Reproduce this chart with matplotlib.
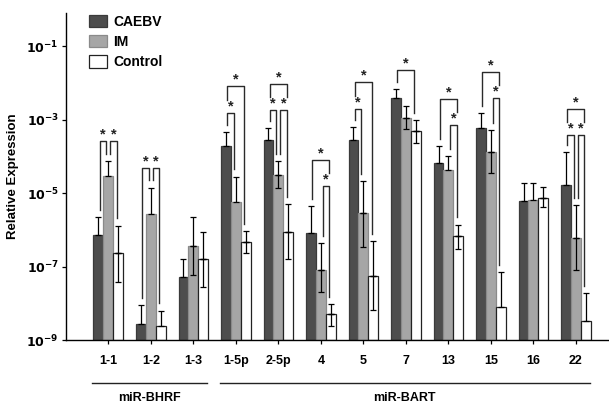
import numpy as np
import matplotlib
matplotlib.use("Agg")
import matplotlib.pyplot as plt

plt.rcParams['font.family'] = ['Liberation Sans', 'DejaVu Sans']

categories = ["1-1", "1-2", "1-3", "1-5p", "2-5p", "4", "5", "7", "13", "15", "16", "22"]
series_names = ["CAEBV", "IM", "Control"]

caebv = [7.2e-7, 2.8e-9, 5.1e-8, 1.9e-4, 2.8e-4, 8.1e-7, 2.8e-4, 3.8e-3, 6.6e-5, 5.9e-4, 6.0e-6, 1.7e-5]
im = [2.9e-5, 2.7e-6, 3.6e-7, 5.8e-6, 3.1e-5, 7.9e-8, 2.9e-6, 1.1e-3, 4.3e-5, 1.3e-4, 6.5e-6, 6.0e-7]
control = [2.3e-7, 2.4e-9, 1.6e-7, 4.7e-7, 8.7e-7, 5.1e-9, 5.5e-8, 4.9e-4, 6.8e-7, 7.9e-9, 7.2e-6, 3.3e-9]

caebv_err_hi = [2.2e-6, 8.9e-9, 1.6e-7, 4.6e-4, 5.9e-4, 4.5e-6, 6.3e-4, 6.8e-3, 1.9e-4, 1.5e-3, 1.9e-5, 1.3e-4]
im_err_hi = [7.4e-5, 1.4e-5, 2.2e-6, 2.8e-5, 7.4e-5, 4.4e-7, 2.1e-5, 2.3e-3, 1.0e-4, 5.1e-4, 1.9e-5, 4.7e-6]
control_err_hi = [1.3e-6, 6.3e-9, 8.7e-7, 9.3e-7, 5.0e-6, 9.5e-9, 5.0e-7, 9.8e-4, 1.4e-6, 7.1e-8, 1.5e-5, 1.9e-8]

caebv_err_lo = [np.nan] * 12
im_err_lo = [np.nan, np.nan, 5.9e-8, np.nan, 1.4e-5, 2.0e-8, 3.4e-7, 5.5e-4, np.nan, 3.5e-5, np.nan, 7.9e-8]
control_err_lo = [3.8e-8, np.nan, 2.8e-8, 2.3e-7, 1.6e-7, 2.5e-9, 6.6e-9, 2.3e-4, 3.0e-7, np.nan, 4.2e-6, np.nan]

# significance brackets: group index, left series, right series, bracket height
bracket_group = [0, 0, 1, 1, 3, 3, 4, 4, 4, 5, 5, 6, 6, 7, 8, 8, 9, 9, 11, 11, 11]
bracket_left = [0, 1, 0, 1, 0, 0, 0, 1, 0, 1, 0, 0, 0, 0, 1, 0, 1, 0, 0, 1, 0]
bracket_right = [1, 2, 1, 2, 1, 2, 1, 2, 2, 2, 2, 1, 2, 2, 2, 2, 2, 2, 1, 2, 2]
bracket_level = [2.6e-4, 2.6e-4, 4.8e-5, 4.8e-5, 1.5e-3, 8.1e-3, 1.8e-3, 1.8e-3, 9.1e-3,
                 1.55e-5, 7.9e-5, 1.95e-3, 1.05e-2, 2.2e-2, 7.1e-4, 3.6e-3, 3.8e-3, 1.95e-2,
                 3.8e-4, 3.8e-4, 1.95e-3]

group_labels = ["miR-BHRF", "miR-BART"]
group_members = [[0, 1, 2], [3, 4, 5, 6, 7, 8, 9, 10, 11]]

values = [caebv, im, control]
err_hi = [caebv_err_hi, im_err_hi, control_err_hi]
err_lo = [caebv_err_lo, im_err_lo, control_err_lo]
colors = ["#4d4d4d", "#a6a6a6", "#ffffff"]
edges = ["#3a3a3a", "#8a8a8a", "#222222"]

fig = plt.figure(figsize=(6.09, 4.05), dpi=100)
ax = fig.add_axes([0.108, 0.160, 0.890, 0.808])

ymin = 1e-9
x = np.arange(1, len(categories) + 1)
w = 0.232
offs = [-w, 0.0, w]

for s in range(3):
    v = np.array(values[s])
    xs = x + offs[s]
    ax.bar(xs, v - ymin, bottom=ymin, width=w, color=colors[s], edgecolor=edges[s],
           linewidth=0.9, label=series_names[s], zorder=2)
    hi = np.array(err_hi[s])
    lo = np.array(err_lo[s], dtype=float)
    ax.errorbar(xs, v, yerr=[np.zeros_like(v), hi - v], fmt='none', ecolor='black',
                elinewidth=0.9, capsize=2.0, capthick=0.9, zorder=3)
    m = ~np.isnan(lo)
    ax.errorbar(xs[m], v[m], yerr=[v[m] - lo[m], np.zeros(m.sum())], fmt='none',
                ecolor='black', elinewidth=0.9, capsize=2.0, capthick=0.9, zorder=3)

# brackets
nb = len(bracket_group)
for k in range(nb):
    g, a, b, L = bracket_group[k], bracket_left[k], bracket_right[k], bracket_level[k]
    xa = g + 1 + offs[a] + 0.03
    xb = g + 1 + offs[b] - 0.03
    if b - a == 1 and a == 1:
        xa += 0.02
    if b - a == 1 and b == 1:
        xb -= 0.02
    bottoms = []
    for s in (a, b):
        inner = [bracket_level[j] for j in range(nb)
                 if j != k and bracket_group[j] == g and bracket_level[j] < L
                 and (bracket_left[j] == s or bracket_right[j] == s)]
        if inner:
            bottoms.append(max(inner) * 10 ** 0.35)
        else:
            bottoms.append(err_hi[s][g] * 10 ** 0.2)
    ax.plot([xa, xa, xb, xb], [bottoms[0], L, L, bottoms[1]], color='#2a2a2a',
            lw=1.0, zorder=4, solid_joinstyle='round')
    ax.annotate('*', xy=((xa + xb) / 2, L), xytext=(0, 5), textcoords='offset points',
                ha='center', va='center', fontsize=10.5, fontweight='bold', color='#222222')

ax.set_yscale('log')
ax.set_ylim(ymin, 10 ** -0.1)
ax.set_xlim(0, 12.75)
ax.set_yticks([1e-1, 1e-3, 1e-5, 1e-7, 1e-9])
ax.set_yticklabels([r'$\mathbf{10^{-1}}$', r'$\mathbf{10^{-3}}$', r'$\mathbf{10^{-5}}$',
                    r'$\mathbf{10^{-7}}$', r'$\mathbf{10^{-9}}$'])
ax.yaxis.set_minor_locator(matplotlib.ticker.NullLocator())
ax.set_xticks(x)
ax.set_xticklabels(categories, fontsize=9, fontweight='bold')
ax.tick_params(axis='x', length=3, width=0.9, pad=8)
ax.tick_params(axis='y', length=3, width=0.9, labelsize=9, pad=2)
for sp in ['top', 'right']:
    ax.spines[sp].set_visible(False)
for sp in ['left', 'bottom']:
    ax.spines[sp].set_linewidth(1.0)
ax.set_ylabel('Relative Expression', fontsize=9.5, fontweight='bold', labelpad=5)

leg = ax.legend(loc='upper left', bbox_to_anchor=(0.028, 1.02), frameon=False,
                prop={'weight': 'bold', 'size': 10}, handlelength=1.25, handleheight=1.0,
                handletextpad=0.5, labelspacing=0.45, borderaxespad=0.2)

# group underline and labels
for lab, mem in zip(group_labels, group_members):
    x0 = mem[0] + 1 - 0.38
    x1 = mem[-1] + 1 + 0.32
    ax.plot([x0, x1], [-0.131, -0.131], transform=ax.get_xaxis_transform(),
            color='#222222', lw=1.0, clip_on=False)
    ax.text((x0 + x1) / 2, -0.178, lab, transform=ax.get_xaxis_transform(),
            ha='center', va='center', fontsize=9, fontweight='bold')

fig.savefig('out.png', dpi=100)
